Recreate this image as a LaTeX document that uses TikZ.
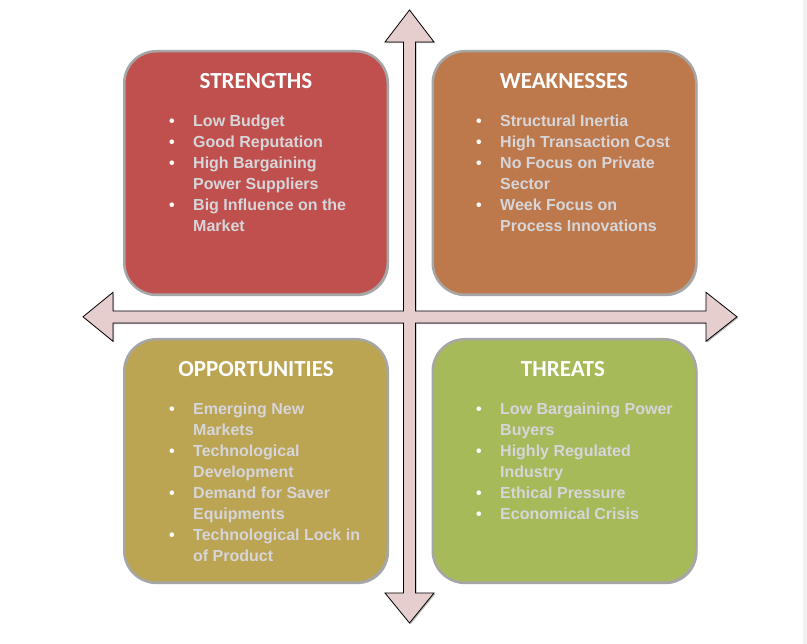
\documentclass[tikz,border=0pt]{standalone}
\usepackage{fontspec}
\setmainfont{Liberation Sans}
\newfontfamily\titlefont{Carlito}
\usetikzlibrary{shadows}
\definecolor{sred}{HTML}{C0504D}
\definecolor{worange}{HTML}{BD794B}
\definecolor{ogold}{HTML}{BBA452}
\definecolor{tgreen}{HTML}{A6BA5A}
\definecolor{boxrim}{HTML}{A6A6A6}
\definecolor{listgray}{HTML}{D6D6DA}
\definecolor{arrowpink}{HTML}{E6CDCE}
\definecolor{edgegray}{HTML}{F0F0F0}
\newcommand{\bul}{\llap{\makebox[24pt][l]{\textcolor{white}{\textbullet}}}}
\newcommand{\firststrut}{\rule{0pt}{14pt}}
\begin{document}
\begin{tikzpicture}[x=1pt,y=-1pt,
  quadbox/.style={rounded corners=32pt, line width=2.5pt, draw=boxrim,
    minimum width=263.5pt, minimum height=243.5pt, inner sep=0pt,
    drop shadow={shadow xshift=1.2pt, shadow yshift=-1.5pt, fill=boxrim, opacity=0.9}},
  quadtitle/.style={anchor=base, inner sep=0pt, text=white,
    font=\titlefont\bfseries\fontsize{23}{27}\selectfont},
  quadlist/.style={anchor=north west, inner sep=0pt, align=left, text=listgray,
    font=\bfseries\fontsize{16}{21}\selectfont},
  crossarrow/.style={fill=arrowpink, draw=black, line width=0.8pt, line join=miter,
    drop shadow={shadow xshift=1.2pt, shadow yshift=-1.2pt, fill=gray!70, opacity=0.8}}
]
\useasboundingbox (0,0) rectangle (807,644);
\fill[white] (0,0) rectangle (807,644);
\fill[edgegray] (803,0) rectangle (807,644);

% quadrant boxes
\node[quadbox, fill=sred]    (S) at (256,173) {};
\node[quadbox, fill=worange] (W) at (564.5,173) {};
\node[quadbox, fill=ogold]   (O) at (256,461) {};
\node[quadbox, fill=tgreen]  (T) at (564.5,461) {};

% four-way arrow
\draw[crossarrow]
  (409.5,10) -- (434,42) -- (415.5,42) -- (415.5,311) -- (706,311) -- (706,292.3)
  -- (737,316.8) -- (706,341.3) -- (706,323) -- (415.5,323) -- (415.5,593)
  -- (434,593) -- (409.5,623) -- (385,593) -- (403.5,593) -- (403.5,323)
  -- (113,323) -- (113,341.3) -- (83,316.8) -- (113,292.3) -- (113,311)
  -- (403.5,311) -- (403.5,42) -- (385,42) -- cycle;

% titles
\node[quadtitle] (St) at (256,88.5)   {STRENGTHS};
\node[quadtitle] (Wt) at (564,88.5)   {WEAKNESSES};
\node[quadtitle] (Ot) at (256,376.5)  {OPPORTUNITIES};
\node[quadtitle] (Tt) at (563,376.5)  {THREATS};

% lists
\node[quadlist] (Sl) at (193,112) {\bul\firststrut Low Budget\\
  \bul Good Reputation\\
  \bul High Bargaining\\
  Power Suppliers\\
  \bul Big Influence on the\\
  Market};
\node[quadlist] (Wl) at (500,112) {\bul\firststrut Structural Inertia\\
  \bul High Transaction Cost\\
  \bul No Focus on Private\\
  Sector\\
  \bul Week Focus on\\
  Process Innovations};
\node[quadlist] (Ol) at (193,400) {\bul\firststrut Emerging New\\
  Markets\\
  \bul Technological\\
  Development\\
  \bul Demand for Saver\\
  Equipments\\
  \bul Technological Lock in\\
  of Product};
\node[quadlist] (Tl) at (500,400) {\bul\firststrut Low Bargaining Power\\
  Buyers\\
  \bul Highly Regulated\\
  Industry\\
  \bul Ethical Pressure\\
  \bul Economical Crisis};
\end{tikzpicture}
\end{document}
